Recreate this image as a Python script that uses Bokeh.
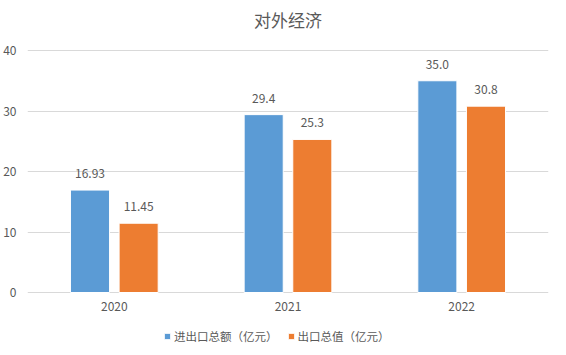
from bokeh.plotting import figure
from bokeh.models import ColumnDataSource, Legend, LegendItem, FactorRange, Range1d, LabelSet
from bokeh.core.properties import value
from bokeh.transform import dodge
from bokeh.embed import file_html
from bokeh.resources import INLINE

years = ["2020", "2021", "2022"]
total = [16.93, 29.4, 35.0]
export = [11.45, 25.3, 30.8]
total_labels = ["16.93", "29.4", "35.0"]
export_labels = ["11.45", "25.3", "30.8"]
zeros = [0, 0, 0]
series_names = ["进出口总额（亿元）", "出口总值（亿元）"]
title_text = "对外经济"

FONT = "Noto Sans CJK SC"
TXT = "#595959"

# layout (pixels): frame spans y=5..352; value 0 at y=292, 40 at y=50
PX_PER_UNIT = (292 - 50) / 40.0
Y_MIN = -(352 - 292) / PX_PER_UNIT
Y_MAX = 40 + (50 - 5) / PX_PER_UNIT
TITLE_Y = 40 + (50 - 19) / PX_PER_UNIT

src = ColumnDataSource(dict(years=years, total=total, export=export,
                            tl=total_labels, el=export_labels, z=zeros))

p = figure(x_range=FactorRange(*years), y_range=Range1d(Y_MIN, Y_MAX),
           width=566, height=355, output_backend="svg", toolbar_location=None,
           min_border_left=27, min_border_right=18, min_border_top=5, min_border_bottom=3)
p.outline_line_color = None
p.border_fill_color = "white"

r1 = p.vbar(x=dodge("years", -0.14, range=p.x_range), top="total", width=0.225,
            source=src, fill_color="#5B9BD5", line_color="white", line_width=1)
r2 = p.vbar(x=dodge("years", 0.14, range=p.x_range), top="export", width=0.225,
            source=src, fill_color="#ED7D31", line_color="white", line_width=1)

for col, lab, off in (("total", "tl", -0.14), ("export", "el", 0.14)):
    ls = LabelSet(x=dodge("years", off, range=p.x_range), y=col, text=lab, source=src,
                  text_align="center", text_baseline="bottom", y_offset=12,
                  text_font=value(FONT), text_font_size=value("12px"), text_color=TXT)
    p.add_layout(ls)

year_labels = LabelSet(x="years", y="z", text="years", source=src,
                       text_align="center", text_baseline="top", y_offset=-9,
                       text_font=value(FONT), text_font_size=value("12px"), text_color=TXT)
p.add_layout(year_labels)

title_src = ColumnDataSource(dict(x=[years[1]], y=[TITLE_Y], t=[title_text]))
title_lbl = LabelSet(x="x", y="y", text="t", source=title_src,
                     text_align="center", text_baseline="middle",
                     text_font=value(FONT), text_font_size=value("17px"), text_color=TXT)
p.add_layout(title_lbl)

p.xaxis.visible = False
p.yaxis.ticker = [0, 10, 20, 30, 40]
p.yaxis.axis_line_color = None
p.yaxis.major_tick_line_color = None
p.yaxis.minor_tick_line_color = None
p.yaxis.major_label_text_font = FONT
p.yaxis.major_label_text_font_size = "12px"
p.yaxis.major_label_text_color = TXT
p.yaxis.major_label_standoff = 5

p.xgrid.grid_line_color = None
p.ygrid.grid_line_color = "#d9d9d9"
p.ygrid.grid_line_width = 1

p.x_range.range_padding = 0
p.x_range.group_padding = 0

legend = Legend(items=[LegendItem(label=series_names[0], renderers=[r1]),
                       LegendItem(label=series_names[1], renderers=[r2])],
                orientation="horizontal", location=(136, 8),
                label_text_font=FONT, label_text_font_size="11.5px", label_text_color=TXT,
                glyph_width=8, glyph_height=8, label_standoff=3, spacing=9,
                border_line_color=None, background_fill_alpha=0, padding=0, margin=0,
                label_height=14)
p.add_layout(legend, "center")

open("out.html", "w").write(file_html(p, INLINE))
